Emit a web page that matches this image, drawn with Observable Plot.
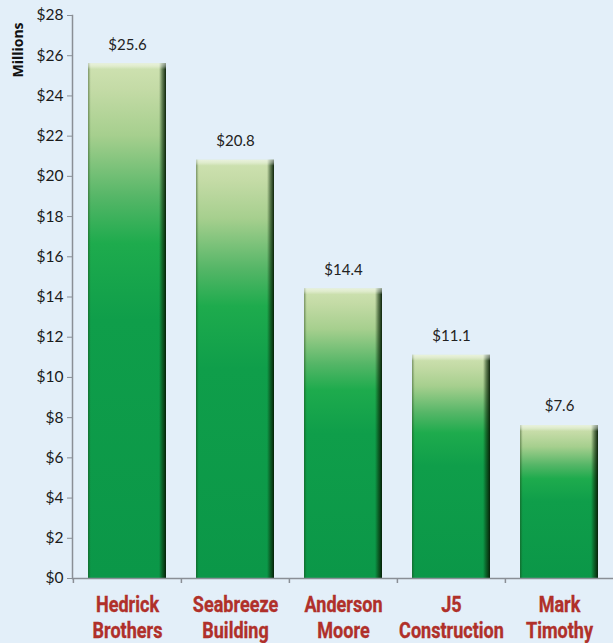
<!DOCTYPE html>
<html>
<head>
<meta charset="utf-8">
<script src="https://cdn.jsdelivr.net/npm/d3@7"></script>
<script src="https://cdn.jsdelivr.net/npm/@observablehq/plot@0.6"></script>
<style>
  html, body { margin: 0; padding: 0; background: #e3eff9; }
  #chart { position: relative; width: 613px; height: 643px; }
  #ylab { position: absolute; left: 17px; top: 50px; transform: translate(-50%, -50%) rotate(-90deg);
          font: bold 14px "Open Sans", Lato, sans-serif; color: #111; white-space: nowrap; }
</style>
</head>
<body>
<div id="chart"><div id="ylab">Millions</div></div>
<script>
const companies = ["Hedrick Brothers", "Seabreeze Building", "Anderson Moore", "J5 Construction", "Mark Timothy"];
const tickLabels = ["Hedrick\nBrothers", "Seabreeze\nBuilding", "Anderson\nMoore", "J5\nConstruction", "Mark\nTimothy"];
const values = [25.6, 20.8, 14.4, 11.1, 7.6];
const yTicks = [0, 2, 4, 6, 8, 10, 12, 14, 16, 18, 20, 22, 24, 26, 28];

const data = companies.map((c, i) => ({company: c, value: values[i]}));
const labelOf = new Map(companies.map((c, i) => [c, tickLabels[i]]));

const W = 613, H = 643, ML = 72, MR = 0;
const step = (W - ML - MR) / companies.length;

const chart = Plot.plot({
  width: W, height: H,
  marginLeft: ML, marginRight: MR, marginTop: 15, marginBottom: 65,
  style: {background: "transparent", fontFamily: "Lato, 'Open Sans', sans-serif"},
  x: {domain: companies, type: "band", paddingInner: 0.28, paddingOuter: 0.14, axis: null},
  y: {domain: [0, 28], axis: null},
  marks: [
    Plot.barY(data, {x: "company", y: "value", fill: "url(#gv)"}),
    Plot.barY(data, {x: "company", y: "value", fill: "url(#gh)"}),
    Plot.barY(data, {x: "company", y1: "value", y2: "value", insetBottom: -6, fill: "url(#gt)"}),
    Plot.frame({anchor: "left", stroke: "#8a8f96", strokeWidth: 1.5}),
    Plot.ruleY([0], {stroke: "#8a8f96", strokeWidth: 1.5}),
    Plot.axisY({ticks: yTicks, tickFormat: d => "$" + d, tickSize: 5, stroke: "#8a8f96",
      fontSize: 15.5, fill: "#1a1a1a", tickPadding: 4, label: null}),
    Plot.ruleX(companies, {x: d => d, dx: -step / 2, y1: 0, y2: 0, insetBottom: -5, stroke: "#8a8f96", strokeWidth: 1.5}),
    Plot.axisX({tickSize: 0, tickFormat: d => labelOf.get(d), fontSize: 21.5, fontWeight: "bold",
      fill: "#b0302a", tickPadding: 16, lineHeight: 1.17, label: null}),
    Plot.text(data, {x: "company", y: "value", text: d => "$" + d.value.toFixed(1), dy: -19,
      fontSize: 15, fill: "#222"})
  ]
});

const svg = d3.select(chart);
const flatLabels = new Set(tickLabels.map(s => s.replace("\n", "")));
svg.selectAll("text")
  .filter(function() { return flatLabels.has(this.textContent); })
  .style("font-family", "Roboto, 'Liberation Sans', sans-serif")
  .style("stroke", "#b0302a").style("stroke-width", "0.35px")
  .attr("transform", function() { return (this.getAttribute("transform") || "") + " scale(0.84,1)"; });

const defs = svg.insert("defs", ":first-child");
const gv = defs.append("linearGradient").attr("id", "gv").attr("x1", 0).attr("y1", 0).attr("x2", 0).attr("y2", 1);
[[0, "#cfe2b2"], [0.05, "#c4dba6"], [0.14, "#a6cf8e"], [0.26, "#55b667"], [0.35, "#1eab4d"], [0.5, "#0f9e4a"], [1, "#0b9748"]]
  .forEach(([o, c]) => gv.append("stop").attr("offset", o).attr("stop-color", c));
const gh = defs.append("linearGradient").attr("id", "gh").attr("x1", 0).attr("y1", 0).attr("x2", 1).attr("y2", 0);
[[0, "#1a3a10", 0.45], [0.035, "#1a3a10", 0], [0.91, "#0a2a08", 0], [0.95, "#0a2a08", 0.5], [1, "#051a04", 0.95]]
  .forEach(([o, c, a]) => gh.append("stop").attr("offset", o).attr("stop-color", c).attr("stop-opacity", a));
const gt = defs.append("linearGradient").attr("id", "gt").attr("x1", 0).attr("y1", 0).attr("x2", 0).attr("y2", 1);
[[0, "#ffffff", 0.55], [0.5, "#ffffff", 0.35], [1, "#ffffff", 0]]
  .forEach(([o, c, a]) => gt.append("stop").attr("offset", o).attr("stop-color", c).attr("stop-opacity", a));
document.getElementById("chart").appendChild(chart);
</script>
</body>
</html>
